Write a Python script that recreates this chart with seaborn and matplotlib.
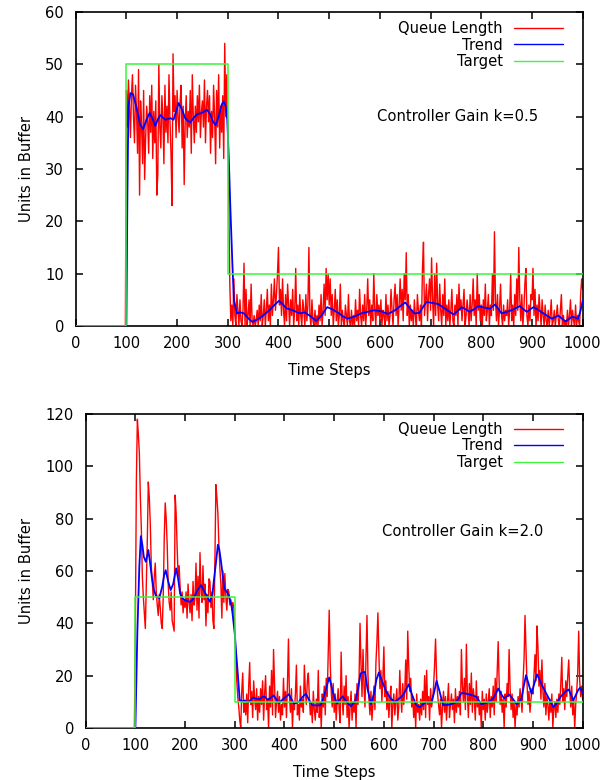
import matplotlib
matplotlib.use("Agg")
import matplotlib.pyplot as plt
import seaborn as sns

sns.set_style("ticks")
plt.rcParams["font.family"] = ["DejaVu Sans"]
plt.rcParams.update({"text.color": "black", "axes.labelcolor": "black",
                     "xtick.color": "black", "ytick.color": "black"})

# Simulation time axis for the sampled queue length (every 2nd step)
queue_steps = list(range(0, 1001, 2))

# Queue length with controller gain k = 0.5
queue_k05 = [0] * 50 + [
    45, 38, 47, 42, 36, 44, 48, 40, 35, 46, 41, 33, 49, 25, 43, 38, 31, 45, 28, 36, 42, 39, 33, 44, 37,
    46, 32, 41, 35, 43, 25, 29, 50, 38, 34, 44, 40, 31, 46, 37, 42, 35, 48, 39, 33, 23, 52, 41, 44, 36,
    45, 40, 37, 43, 46, 34, 42, 27, 39, 44, 36, 41, 38, 45, 33, 48, 40, 35, 42, 37, 44, 39, 46, 36, 41,
    43, 38, 47, 35, 42, 45, 39, 44, 33, 41, 36, 46, 40, 31, 45, 38, 48, 34, 42, 37, 44, 32, 54, 40, 48,
    38, 24, 8, 1, 4, 0, 9, 2, 0, 6, 3, 0, 5, 1, 0, 3, 12, 0, 7, 0, 2, 5, 0, 8, 1,
    0, 2, 0, 1, 3, 0, 4, 1, 6, 0, 2, 5, 0, 3, 7, 1, 4, 0, 8, 2, 5, 9, 3, 6, 10,
    15, 4, 7, 2, 9, 3, 0, 6, 1, 8, 4, 0, 5, 2, 7, 0, 3, 11, 1, 4, 0, 6, 2, 0, 5,
    3, 0, 6, 1, 4, 15, 2, 0, 5, 1, 0, 3, 0, 2, 0, 4, 1, 6, 0, 3, 8, 2, 11, 5, 10,
    4, 9, 2, 6, 0, 3, 7, 1, 5, 0, 2, 8, 0, 3, 1, 0, 4, 2, 0, 6, 1, 0, 3, 0, 2,
    0, 5, 1, 3, 0, 7, 2, 0, 4, 1, 6, 0, 3, 9, 2, 5, 0, 4, 1, 10, 3, 0, 6, 2, 4,
    1, 5, 0, 3, 2, 0, 6, 1, 4, 0, 2, 7, 3, 0, 5, 8, 2, 6, 0, 4, 9, 3, 7, 1, 10,
    5, 14, 2, 6, 0, 4, 1, 3, 0, 5, 2, 0, 6, 3, 1, 4, 0, 11, 16, 2, 5, 8, 1, 6, 9,
    3, 13, 5, 0, 10, 2, 12, 4, 1, 8, 3, 0, 6, 2, 9, 0, 4, 1, 5, 0, 3, 7, 1, 0, 4,
    2, 6, 0, 8, 3, 5, 1, 4, 7, 0, 2, 5, 3, 0, 6, 1, 4, 9, 2, 5, 0, 10, 3, 6, 1,
    4, 0, 5, 2, 8, 1, 3, 6, 0, 4, 2, 10, 3, 18, 5, 1, 6, 0, 3, 8, 2, 0, 4, 1, 3,
    2, 5, 0, 3, 10, 1, 4, 0, 6, 2, 9, 3, 15, 5, 1, 6, 0, 3, 8, 11, 2, 0, 4, 1, 6,
    5, 11, 2, 7, 0, 4, 1, 6, 3, 0, 5, 2, 0, 4, 1, 0, 3, 0, 2, 5, 0, 1, 3, 0, 2,
    4, 1, 0, 3, 6, 0, 2, 0, 1, 0, 3, 0, 2, 5, 0, 3, 1, 0, 4, 0, 2, 1, 0, 6, 9,
    7,
]

# Queue length with controller gain k = 2.0
queue_k20 = [0] * 50 + [
    40, 95, 118, 112, 105, 88, 76, 58, 50, 44, 38, 55, 72, 94, 88, 78, 62, 56, 49, 58, 63, 52, 47, 43, 51,
    46, 40, 38, 50, 72, 86, 80, 70, 55, 48, 45, 52, 41, 39, 37, 89, 82, 69, 58, 62, 54, 47, 52, 44, 49,
    46, 52, 42, 55, 48, 44, 51, 41, 56, 47, 50, 63, 45, 58, 42, 67, 53, 48, 62, 49, 55, 39, 51, 44, 57,
    56, 46, 52, 41, 38, 64, 93, 88, 82, 70, 61, 55, 42, 60, 48, 59, 50, 45, 53, 52, 47, 49, 45, 48, 46,
    38, 27, 18, 12, 8, 3, 0, 14, 21, 6, 10, 5, 13, 2, 16, 25, 9, 14, 4, 18, 11, 7, 15, 3, 12,
    6, 15, 9, 18, 3, 13, 20, 7, 11, 0, 16, 8, 22, 5, 30, 17, 4, 10, 14, 6, 12, 3, 9, 5, 19,
    8, 14, 4, 17, 34, 12, 6, 15, 0, 10, 7, 13, 24, 5, 9, 3, 16, 8, 11, 6, 24, 14, 9, 18, 21,
    12, 5, 9, 2, 14, 7, 3, 11, 6, 22, 4, 10, 0, 13, 8, 16, 5, 19, 12, 28, 45, 25, 14, 8, 17,
    6, 13, 3, 10, 15, 7, 2, 29, 11, 5, 16, 9, 20, 4, 12, 0, 8, 14, 3, 10, 6, 13, 0, 17, 9,
    18, 40, 24, 12, 30, 16, 8, 27, 43, 20, 11, 5, 14, 3, 9, 16, 7, 25, 33, 44, 28, 15, 22, 10, 19,
    31, 12, 18, 7, 14, 4, 11, 16, 0, 9, 13, 5, 10, 15, 3, 8, 22, 12, 6, 17, 9, 14, 26, 11, 37,
    24, 14, 19, 8, 12, 4, 10, 0, 13, 6, 9, 3, 11, 5, 14, 7, 20, 4, 22, 9, 12, 3, 15, 8, 11,
    16, 24, 34, 20, 13, 9, 5, 11, 0, 8, 14, 6, 12, 3, 10, 17, 4, 9, 13, 7, 11, 2, 15, 6, 12,
    8, 14, 5, 30, 16, 10, 19, 7, 32, 13, 4, 17, 9, 21, 6, 15, 11, 3, 18, 8, 12, 5, 10, 0, 14,
    7, 11, 3, 13, 6, 10, 15, 4, 12, 8, 16, 5, 19, 10, 22, 33, 17, 9, 14, 6, 11, 0, 13, 8, 17,
    12, 30, 15, 7, 13, 4, 10, 0, 9, 5, 12, 8, 15, 11, 6, 18, 26, 43, 30, 17, 9, 14, 6, 11, 15,
    13, 20, 28, 18, 39, 31, 16, 22, 11, 26, 14, 8, 17, 5, 12, 9, 3, 11, 6, 13, 0, 8, 10, 4, 11,
    6, 13, 9, 17, 27, 10, 15, 7, 18, 12, 20, 26, 14, 8, 16, 5, 11, 0, 9, 14, 21, 37, 18, 12, 16,
    11,
]

# Smoothed trend, k = 0.5
trend_k05_t = [0, 99, 100, 102, 104, 108, 113, 121, 127, 133, 140, 146, 152, 157, 162, 167, 172, 177,
               187, 193, 198, 203, 209, 216, 221, 226, 233, 240, 249, 259, 265, 271, 276, 282, 288, 292,
               296, 299, 302, 305, 309, 312, 318, 325, 332, 340, 348, 360, 371, 383, 392, 401, 408, 415,
               428, 442, 452, 464, 474, 485, 496, 506, 518, 528, 536, 550, 563, 576, 589, 602, 616, 630,
               640, 650, 658, 668, 678, 685, 692, 703, 715, 730, 745, 753, 761, 769, 777, 786, 794, 806,
               817, 827, 834, 840, 850, 860, 868, 876, 883, 890, 897, 903, 913, 926, 939, 946, 952, 959,
               966, 973, 979, 985, 991, 996, 1000]
trend_k05_v = [0, 0, 0, 25, 42, 44.5, 44.3, 41.3, 38.5, 37.6, 39.5, 40.7, 39.5, 38.2, 39.5, 40.3, 39.8, 39.4,
               39.7, 39.4, 41, 42.6, 41.5, 39.7, 39.2, 38.9, 39.8, 40.5, 40.7, 41.3, 40.5, 39, 38.4, 40, 42.3, 42.9,
               42, 39.4, 32, 22.8, 12, 5.0, 2.4, 2.6, 2.4, 1.5, 0.8, 1.3, 2.1, 3.1, 4, 4.8, 4.2, 3.4,
               3.0, 2.4, 2.6, 1.8, 1.0, 2, 3.6, 3.2, 2.5, 1.8, 1.4, 1.8, 2.4, 2.7, 3.0, 2.8, 2.3, 3.0,
               3.8, 4.5, 3.5, 2.4, 2.5, 3.6, 4.6, 4.4, 4.2, 3.2, 2.2, 2.8, 3.6, 3.2, 2.7, 3.2, 3.8, 3.5,
               3.3, 4.1, 3.2, 2.4, 2.7, 3.0, 3.4, 3.8, 3.2, 2.7, 3.2, 3.6, 3.0, 2.2, 1.4, 1.7, 2.0, 1.4,
               0.9, 1.3, 1.8, 1.6, 1.4, 3.0, 4.8]

# Smoothed trend, k = 2.0
trend_k20_t = [0, 99, 100, 104, 108, 111, 114, 117, 121, 124, 126, 129, 133, 137, 141, 148, 154, 158, 161,
               166, 171, 176, 182, 186, 190, 195, 200, 210, 215, 220, 226, 232, 238, 243, 250, 255, 258,
               262, 266, 269, 272, 276, 279, 284, 288, 294, 300, 303, 306, 310, 315, 320, 327, 332, 337,
               343, 350, 355, 360, 366, 372, 378, 383, 389, 398, 409, 414, 419, 424, 429, 436, 443, 450,
               456, 465, 473, 480, 485, 490, 494, 497, 502, 506, 511, 517, 525, 534, 543, 548, 553, 558,
               562, 567, 574, 580, 585, 590, 596, 605, 613, 621, 628, 635, 640, 650, 657, 665, 672, 679,
               685, 690, 696, 701, 706, 712, 719, 727, 736, 741, 746, 751, 756, 763, 770, 778, 786, 791,
               796, 803, 810, 815, 820, 825, 830, 836, 842, 847, 852, 860, 867, 872, 877, 881, 886, 891,
               897, 902, 908, 913, 919, 925, 933, 941, 946, 951, 956, 961, 966, 972, 977, 981, 986, 991,
               995, 1000]
trend_k20_v = [0, 0, 0, 37, 62, 73.3, 70, 65.4, 63.5, 66, 68, 64, 57.7, 53, 50.7, 49.5, 54, 58.5, 60.3,
               56, 52.7, 55, 61, 57, 51.4, 49.5, 48.8, 48.2, 49, 50.7, 53, 54.6, 52.5, 50.7, 48.2, 51, 56.5,
               63, 70, 68, 64, 58, 53.3, 52, 50.7, 46.3, 36, 28, 20.8, 10.6, 10.2, 10.5, 9.8, 10.8, 11.6,
               11.2, 11, 11.9, 12, 10.8, 11.5, 12.5, 11, 9.6, 11.2, 12.9, 11, 9.3, 9.6, 10, 11.8, 13.1, 10.5,
               8.7, 8.6, 8.7, 12.5, 16, 19.3, 16.5, 13.8, 11, 9.3, 10.8, 12.1, 10, 8.3, 10.6, 15, 20.8, 21.3,
               21.4, 15, 9.1, 13, 18.5, 21.2, 18, 13.8, 11.5, 9.9, 10.8, 11.9, 13, 16.7, 12.5, 8.7, 8, 9,
               10, 10, 10, 13.5, 18, 14, 8.7, 8.8, 9.1, 9.5, 10, 11.5, 13.4, 13.2, 12.9, 12.5, 11.9, 10.5,
               9.1, 9.4, 10, 10.5, 11.3, 13, 15.1, 13, 11.3, 12, 12.8, 11, 9.1, 10, 11.3, 15.5, 20.2, 17,
               13.1, 16.5, 20.5, 18.5, 16, 13.8, 10.8, 8, 9, 10.6, 12, 13.1, 14, 14.7, 12.5, 10.6, 12.5, 14.5,
               15.4, 13.4]

# Target buffer level schedule (step changes)
target_t = [0, 100, 300, 1000]
target_k05 = [0, 50, 10, 10]
target_k20 = [0, 50, 10, 10]

x_ticks = [0, 100, 200, 300, 400, 500, 600, 700, 800, 900, 1000]
y_ticks_k05 = [0, 10, 20, 30, 40, 50, 60]
y_ticks_k20 = [0, 20, 40, 60, 80, 100, 120]

FS = 10.6
RED, BLUE, GREEN = "#ff0000", "#0000ff", "#3cf53c"

fig = plt.figure(figsize=(6.06, 7.8), dpi=100)
ax_top = fig.add_axes([0.1249, 0.5821, 0.8366, 0.4026])
ax_bot = fig.add_axes([0.1414, 0.0667, 0.8201, 0.4026])


def draw_panel(ax, queue, tr_t, tr_v, target, yticks, gain_text, leg_xy, text_xy, ylab_x):
    sns.lineplot(x=queue_steps, y=queue, ax=ax, color=RED, lw=1.0, label="Queue Length",
                 estimator=None, sort=False, zorder=2)
    sns.lineplot(x=tr_t, y=tr_v, ax=ax, color=BLUE, lw=1.3, label="Trend",
                 estimator=None, sort=False, zorder=3)
    sns.lineplot(x=target_t, y=target, ax=ax, color=GREEN, lw=1.1, label="Target",
                 estimator=None, sort=False, drawstyle="steps-post", zorder=4)

    ax.set_xlim(x_ticks[0], x_ticks[-1])
    ax.set_ylim(yticks[0], yticks[-1])
    ax.set_xticks(x_ticks)
    ax.set_yticks(yticks)
    ax.tick_params(direction="in", top=True, right=True, length=5.3, width=1.1,
                   labelsize=FS, color="black", labelcolor="black")
    ax.tick_params(axis="x", pad=7.3)
    ax.tick_params(axis="y", pad=8.4)
    for sp in ax.spines.values():
        sp.set_visible(True)
        sp.set_linewidth(1.2)
        sp.set_color("black")

    ax.set_xlabel("Time Steps", fontsize=FS, color="black")
    ax.set_ylabel("Units in Buffer", fontsize=FS, color="black")
    ax.xaxis.set_label_coords(0.5, -0.118)
    ax.yaxis.set_label_coords(ylab_x, 0.5)

    leg = ax.legend(loc="upper right", bbox_to_anchor=leg_xy, frameon=False, markerfirst=False,
                    handlelength=3.33, handletextpad=0.75, labelspacing=0.1, borderpad=0,
                    borderaxespad=0, fontsize=FS, labelcolor="black")
    for h in leg.get_lines():
        h.set_linewidth(1.0)
    ax.text(text_xy[0], text_xy[1], gain_text, transform=ax.transAxes, ha="right",
            va="center", fontsize=FS, color="black")


draw_panel(ax_top, queue_k05, trend_k05_t, trend_k05_v, target_k05, y_ticks_k05,
           "Controller Gain k=0.5", (0.961, 0.971), (0.912, 0.6656), -0.0832)
draw_panel(ax_bot, queue_k20, trend_k20_t, trend_k20_v, target_k20, y_ticks_k20,
           "Controller Gain k=2.0", (0.960, 0.975), (0.920, 0.625), -0.105)

fig.savefig("out.png", dpi=100)
